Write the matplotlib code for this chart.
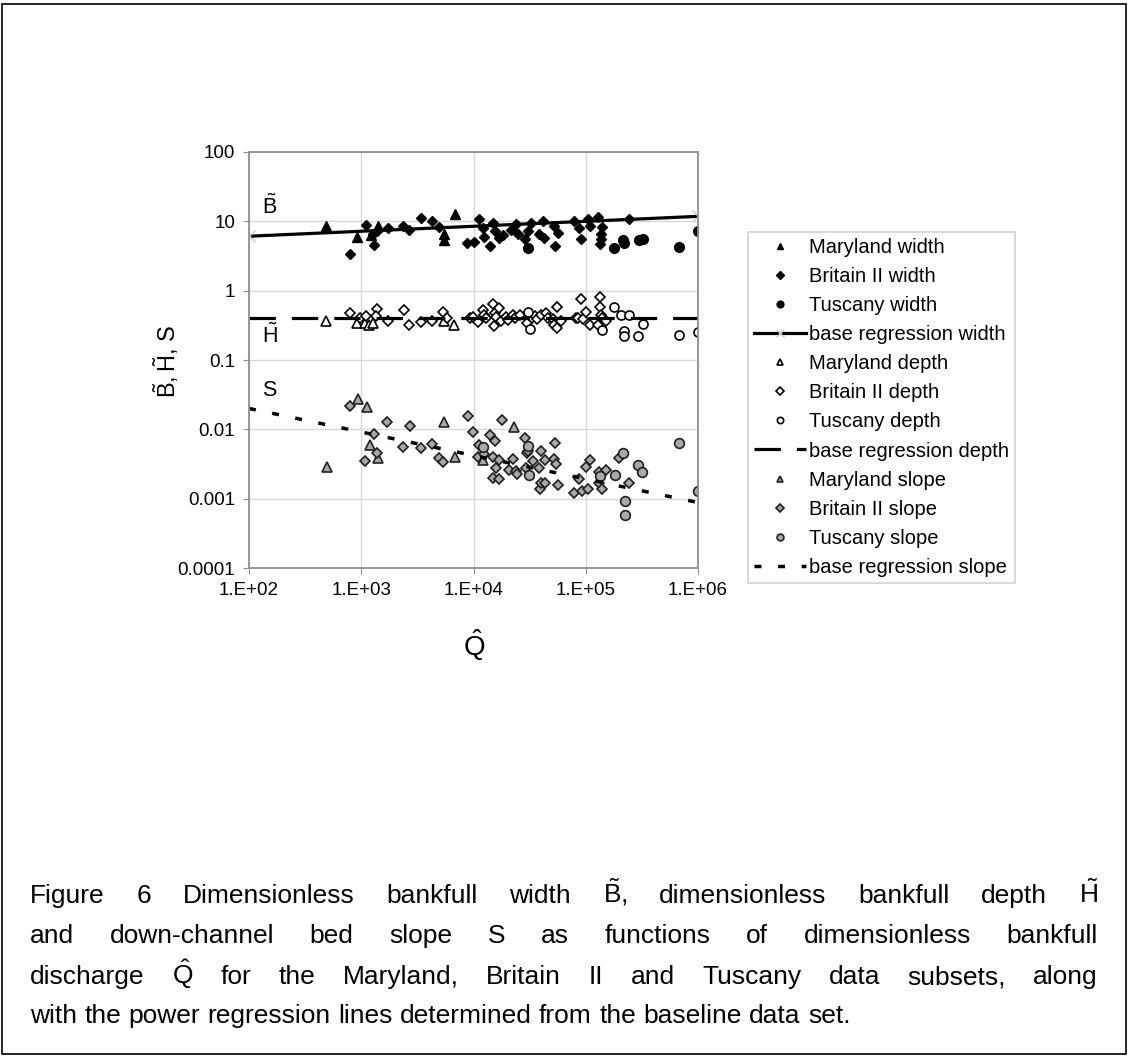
import matplotlib
matplotlib.use("Agg")
import matplotlib.pyplot as plt
from matplotlib.patches import Rectangle

plt.rcParams["font.family"] = ["Liberation Sans", "DejaVu Sans"]
plt.rcParams["mathtext.fontset"] = "custom"
plt.rcParams["mathtext.rm"] = "Liberation Sans"
plt.rcParams["mathtext.it"] = "Liberation Sans:italic"
plt.rcParams["lines.scale_dashes"] = False

# --- data ---
md_width_q = [490, 920, 1230, 1400, 5430, 5500, 6900]
md_width = [8.5, 6.0, 6.3, 8.7, 6.6, 5.4, 12.6]

bii_width_q = [800, 1100, 1260, 1300, 1380, 1730, 2340, 2680, 3380, 4270, 4900, 8700,
               10200, 11300, 12100, 12500, 14100, 14900, 15400, 17000, 18200, 21700,
               24000, 24800, 28500, 30500, 32500, 38700, 42000, 42800, 52600, 53600,
               56300, 79000, 87700, 90800, 104000, 108000, 128000, 136000, 136000,
               135000, 141000, 245000]
bii_width = [3.4, 8.9, 6.6, 4.6, 7.2, 8.1, 8.6, 7.6, 11.0, 10.0, 8.3, 4.8,
             5.0, 10.7, 7.9, 6.0, 4.4, 9.6, 7.2, 5.8, 6.3, 7.6,
             9.1, 6.6, 5.5, 7.2, 9.6, 6.6, 10.0, 5.8, 8.7, 4.4,
             6.9, 10.0, 7.9, 5.5, 10.7, 8.7, 11.7, 6.6, 5.5,
             4.7, 8.3, 10.7]

tus_width_q = [30500, 180000, 213000, 220000, 301000, 323000, 674000, 1000000]
tus_width = [4.1, 4.1, 5.3, 4.8, 5.3, 5.5, 4.3, 7.2]

md_depth_q = [490, 920, 1070, 1180, 1260, 5430, 6750]
md_depth = [0.37, 0.34, 0.34, 0.32, 0.34, 0.37, 0.32]

bii_depth_q = [800, 970, 1100, 1380, 1350, 1730, 2390, 2680, 3380, 4270, 5400, 5750,
               9300, 9900, 11000, 12100, 12500, 13000, 14900, 15400, 17000, 15100,
               16000, 17700, 19600, 20500, 22400, 23400, 26000, 30000, 33000, 35000,
               37000, 40000, 44300, 46000, 51000, 55400, 52600, 55400, 60000, 81800,
               85000, 91000, 95000, 101000, 108000, 128000, 134000, 134000, 138000,
               141000, 150000]
bii_depth = [0.47, 0.41, 0.43, 0.55, 0.43, 0.36, 0.53, 0.32, 0.35, 0.36, 0.49, 0.41,
             0.40, 0.42, 0.35, 0.53, 0.44, 0.40, 0.64, 0.47, 0.56, 0.31,
             0.42, 0.37, 0.42, 0.38, 0.44, 0.41, 0.45, 0.34, 0.40, 0.43,
             0.39, 0.44, 0.48, 0.40, 0.39, 0.59, 0.32, 0.29, 0.37, 0.41,
             0.40, 0.76, 0.39, 0.49, 0.32, 0.32, 0.81, 0.59, 0.44,
             0.41, 0.37]

tus_depth_q = [30500, 31600, 141000, 180000, 205000, 220000, 218000, 245000, 290000,
               323000, 674000, 1000000]
tus_depth = [0.50, 0.28, 0.27, 0.59, 0.45, 0.26, 0.22, 0.45, 0.22, 0.33, 0.23, 0.25]

md_slope_q = [500, 930, 1130, 1200, 1410, 5500, 6800, 12100, 22800]
md_slope = [0.0029, 0.0275, 0.021, 0.0060, 0.0039, 0.0129, 0.0040, 0.0036, 0.0107]

bii_slope_q = [790, 1090, 1290, 1380, 1700, 2360, 2700, 3390, 4290, 4910, 5350, 8850,
               9800, 11000, 11200, 12500, 14100, 14900, 15000, 15400, 15800, 17000,
               17000, 17900, 20600, 22700, 24000, 24300, 28500, 29700, 30500, 29500,
               33700, 38200, 39000, 39600, 40000, 43000, 43000, 52600, 53700, 54600,
               56300, 79000, 87700, 92500, 101000, 104000, 110000, 132000, 132000,
               141000, 150000, 196000, 245000]
bii_slope = [0.022, 0.0035, 0.0085, 0.0046, 0.0128, 0.0056, 0.011, 0.0053, 0.0062,
             0.0039, 0.0034, 0.0154, 0.0093, 0.0040, 0.0059, 0.0044, 0.0082, 0.0040,
             0.0020, 0.0067, 0.0028, 0.0036, 0.0019, 0.0136, 0.0026, 0.0037, 0.0025,
             0.0023, 0.0075, 0.0046, 0.0049, 0.0028, 0.0035, 0.0028, 0.0014, 0.0048,
             0.0017, 0.0036, 0.0017, 0.0037, 0.0064, 0.0032, 0.0016, 0.0012, 0.0019,
             0.0013, 0.0029, 0.0014, 0.0036, 0.0024, 0.0017, 0.0014, 0.0026, 0.0039,
             0.0017]

tus_slope_q = [12100, 30500, 31500, 135000, 181000, 216000, 224000, 224000, 290000,
               318000, 674000, 1000000]
tus_slope = [0.0055, 0.0058, 0.0022, 0.0021, 0.0022, 0.0046, 0.00093, 0.00058, 0.0031,
             0.0024, 0.0064, 0.0013]

reg_q = [1e2, 1e6]
reg_width = [6.1, 11.8]
reg_depth = [0.40, 0.40]
reg_slope = [0.0200, 0.00088]

x_ticks = [1e2, 1e3, 1e4, 1e5, 1e6]
x_labels = ["1.E+02", "1.E+03", "1.E+04", "1.E+05", "1.E+06"]
y_ticks = [1e-4, 1e-3, 1e-2, 1e-1, 1, 10, 100]
y_labels = ["0.0001", "0.001", "0.01", "0.1", "1", "10", "100"]

caption_lines = [
    ["Figure", "6", "Dimensionless", "bankfull", "width", r"$\tilde{\mathrm{B}}$,",
     "dimensionless", "bankfull", "depth", r"$\tilde{\mathrm{H}}$"],
    ["and", "down-channel", "bed", "slope", "S", "as", "functions", "of",
     "dimensionless", "bankfull"],
    ["discharge", r"$\hat{\mathrm{Q}}$", "for", "the", "Maryland,", "Britain", "II", "and",
     "Tuscany", "data", "subsets,", "along"],
    ["with", "the", "power", "regression", "lines", "determined", "from", "the",
     "baseline", "data", "set."],
]

W, H = 1129, 1057
fig = plt.figure(figsize=(W / 100, H / 100), dpi=100)
ax = fig.add_axes([249 / W, 1 - 568 / H, 449 / W, 416 / H])
ax.set_xscale("log")
ax.set_yscale("log")

gray = "#a8a8a8"
ms = 7
ax.plot(md_width_q, md_width, "^", color="black", ms=ms, label="Maryland width")
ax.plot(bii_width_q, bii_width, "D", color="black", ms=ms - 1.5, label="Britain II width")
ax.plot(tus_width_q, tus_width, "o", color="black", ms=ms, label="Tuscany width")
ax.plot(reg_q, reg_width, "-", color="black", lw=2.3, marker="x", mec="#c8c8c8",
        ms=8, label="base regression width")
ax.plot(md_depth_q, md_depth, "^", mfc="white", mec="black", mew=1.2, ms=6.5,
        label="Maryland depth")
ax.plot(bii_depth_q, bii_depth, "D", mfc="white", mec="black", mew=1.2, ms=5.5,
        label="Britain II depth")
ax.plot(tus_depth_q, tus_depth, "o", mfc="white", mec="black", mew=1.2, ms=6.5,
        label="Tuscany depth")
ax.plot(reg_q, reg_depth, color="black", lw=2.3, dashes=(19, 11.5), label="base regression depth")
ax.plot(md_slope_q, md_slope, "^", mfc=gray, mec="#202020", mew=1.2, ms=6.5,
        label="Maryland slope")
ax.plot(bii_slope_q, bii_slope, "D", mfc=gray, mec="#202020", mew=1.2, ms=5.5,
        label="Britain II slope")
ax.plot(tus_slope_q, tus_slope, "o", mfc=gray, mec="#202020", mew=1.2, ms=7,
        label="Tuscany slope")
ax.plot(reg_q, reg_slope, color="black", lw=2.5, dashes=(5, 12), label="base regression slope")

ax.set_xlim(1e2, 1e6)
ax.set_ylim(1e-4, 1e2)
ax.set_xticks(x_ticks)
ax.set_xticklabels(x_labels)
ax.set_yticks(y_ticks)
ax.set_yticklabels(y_labels)
ax.minorticks_off()
ax.tick_params(labelsize=13.5, colors="#909090", labelcolor="black", length=4, pad=6)
ax.grid(True, color="#d8d8d8", lw=1)
for s in ax.spines.values():
    s.set_color("#909090")
    s.set_linewidth(1.3)

ax.text(130, 16, r"$\tilde{\mathrm{B}}$", fontsize=15.5, va="center")
ax.text(130, 0.22, r"$\tilde{\mathrm{H}}$", fontsize=15.5, va="center")
ax.text(130, 0.036, "S", fontsize=15.5, va="center")

fig.text(166 / W, 1 - 361 / H, r"$\tilde{\mathrm{B}}, \tilde{\mathrm{H}}$, S", rotation=90,
         fontsize=17, ha="center", va="center")
fig.text(474 / W, 1 - 645 / H, r"$\hat{\mathrm{Q}}$", fontsize=20, ha="center", va="center")

leg = fig.legend(loc="upper left", bbox_to_anchor=(748 / W, 1 - 232 / H), fontsize=14.5,
                 frameon=True, fancybox=False, edgecolor="#c8c8c8", markerscale=0.7,
                 handlelength=2.6, handletextpad=0.15, labelspacing=0.5, borderpad=0.3,
                 borderaxespad=0, numpoints=1)
leg.get_frame().set_linewidth(1.2)

# caption, justified by hand
fig.canvas.draw()
r = fig.canvas.get_renderer()
cap_size = 19
x0, x1 = 30, 1098
baselines = [903, 943, 984, 1023]
for i, (words, y) in enumerate(zip(caption_lines, baselines)):
    ts = [fig.text(0, 1 - y / H, w, fontsize=cap_size, va="baseline") for w in words]
    widths = [t.get_window_extent(r).width for t in ts]
    if i < len(caption_lines) - 1:
        gap = (x1 - x0 - sum(widths)) / (len(words) - 1)
    else:
        sp = fig.text(0, 0, "a a", fontsize=cap_size)
        aa = fig.text(0, 0, "aa", fontsize=cap_size)
        gap = sp.get_window_extent(r).width - aa.get_window_extent(r).width
        sp.remove()
        aa.remove()
    x = x0
    for t, w in zip(ts, widths):
        t.set_x(x / W)
        x += w + gap

fig.patches.append(Rectangle((2 / W, 3 / H), 1124 / W, 1050 / H, transform=fig.transFigure,
                             fill=False, edgecolor="black", lw=1.2))

fig.savefig("out.png", dpi=100)
